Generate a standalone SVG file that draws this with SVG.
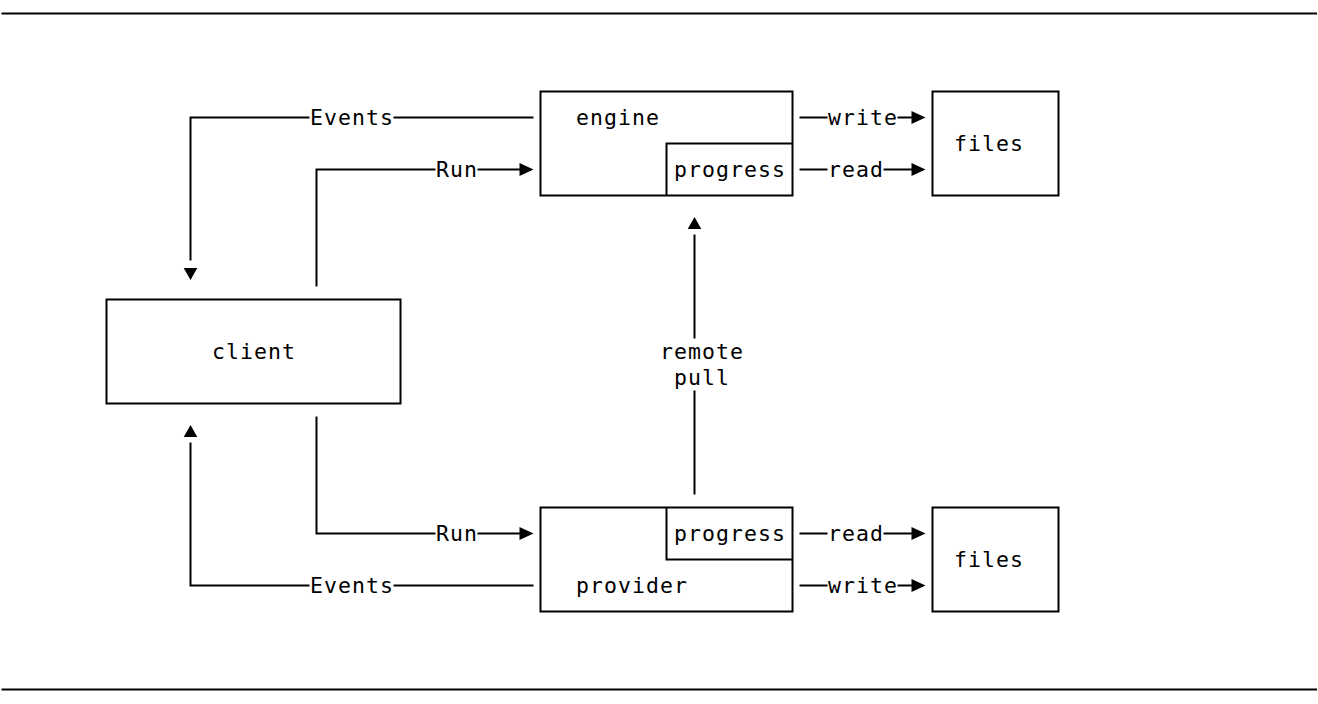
<svg xmlns="http://www.w3.org/2000/svg" xmlns:xlink="http://www.w3.org/1999/xlink" width="1318" height="704" viewBox="0 0 1318 704">
<style>
.ln{fill:none;stroke:#000;stroke-width:2;}
.bx{fill:#fff;stroke:#000;stroke-width:2;}
.t{font-family:"DejaVu Sans Mono","Liberation Mono",monospace;font-size:21.5px;letter-spacing:1.06px;fill:#000;}
.ah{fill:#000;}
</style>
<defs>
<path id="ar" d="M0,-6.5 L14,0 L0,6.5Z"/>
<path id="au" d="M0,-6 L6.8,6 L-6.8,6Z"/>
<path id="ad" d="M0,6 L6.8,-6 L-6.8,-6Z"/>
</defs>
<rect width="1318" height="704" fill="#fff"/>
<g id="rules">
<line class="ln" x1="1.5" y1="13.5" x2="1317" y2="13.5"/>
<line class="ln" x1="1.5" y1="689.5" x2="1317" y2="689.5"/>
</g>
<g id="connectors">
<path class="ln" d="M533.5,117.5H393.5M309.5,117.5H190.5V260.5"/>
<use href="#ad" class="ah" x="190.5" y="274"/>
<text class="t" x="310" y="124.5">Events</text>
<path class="ln" d="M316.5,286.5V169.5H435.5M477.5,169.5H520"/>
<use href="#ar" class="ah" x="519.5" y="169.5"/>
<text class="t" x="436" y="176.5">Run</text>
<path class="ln" d="M316.5,416.5V533.5H435.5M477.5,533.5H520"/>
<use href="#ar" class="ah" x="519.5" y="533.5"/>
<text class="t" x="436" y="540.5">Run</text>
<path class="ln" d="M533.5,585.5H393.5M309.5,585.5H190.5V442.5"/>
<use href="#au" class="ah" x="190.5" y="431"/>
<text class="t" x="310" y="592.5">Events</text>
<path class="ln" d="M694.5,234.5V338.5M694.5,390.5V494.5"/>
<use href="#au" class="ah" x="694.5" y="223"/>
<text class="t" x="660" y="358.5">remote</text>
<text class="t" x="674" y="384.5">pull</text>
<path class="ln" d="M799.5,117.5H827.5M897.5,117.5H912"/>
<use href="#ar" class="ah" x="911.5" y="117.5"/>
<text class="t" x="828" y="124.5">write</text>
<path class="ln" d="M799.5,169.5H827.5M883.5,169.5H912"/>
<use href="#ar" class="ah" x="911.5" y="169.5"/>
<text class="t" x="828" y="176.5">read</text>
<path class="ln" d="M799.5,533.5H827.5M883.5,533.5H912"/>
<use href="#ar" class="ah" x="911.5" y="533.5"/>
<text class="t" x="828" y="540.5">read</text>
<path class="ln" d="M799.5,585.5H827.5M897.5,585.5H912"/>
<use href="#ar" class="ah" x="911.5" y="585.5"/>
<text class="t" x="828" y="592.5">write</text>
</g>
<g id="client">
<rect class="bx" x="106.5" y="299.5" width="294" height="104"/>
<text class="t" x="212" y="358.5">client</text>
</g>
<g id="engine">
<rect class="bx" x="540.5" y="91.5" width="252" height="104"/>
<path class="ln" d="M666.5,195.5V143.5H792.5"/>
<text class="t" x="576" y="124.5">engine</text>
<text class="t" x="674" y="176.5">progress</text>
</g>
<g id="files-top">
<rect class="bx" x="932.5" y="91.5" width="126" height="104"/>
<text class="t" x="954" y="150.5">files</text>
</g>
<g id="provider">
<rect class="bx" x="540.5" y="507.5" width="252" height="104"/>
<path class="ln" d="M666.5,507.5V559.5H792.5"/>
<text class="t" x="674" y="540.5">progress</text>
<text class="t" x="576" y="592.5">provider</text>
</g>
<g id="files-bottom">
<rect class="bx" x="932.5" y="507.5" width="126" height="104"/>
<text class="t" x="954" y="566.5">files</text>
</g>
</svg>
